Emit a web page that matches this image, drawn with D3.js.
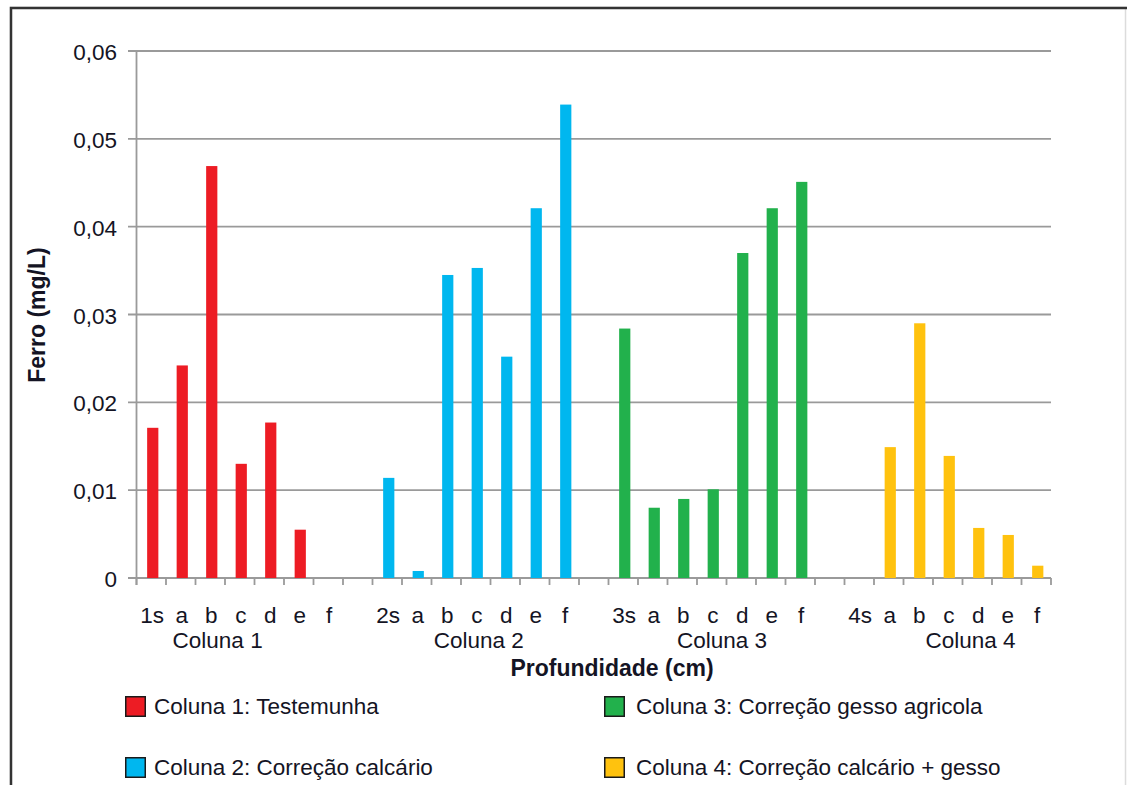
<!DOCTYPE html>
<html><head><meta charset="utf-8">
<script src="https://cdn.jsdelivr.net/npm/d3@7"></script>
<style>
html,body{margin:0;padding:0;background:#fff;}
text{font-family:"Liberation Sans",Arial,sans-serif;fill:#141424;}
</style></head>
<body><svg id="c" width="1127" height="785"></svg>
<script>
// ---- data ----
const groups = ["Coluna 1","Coluna 2","Coluna 3","Coluna 4"];
const depthLabels = ["s","a","b","c","d","e","f"];
const coluna1 = [0.0171,0.0242,0.0469,0.0130,0.0177,0.0055,null];
const coluna2 = [0.0114,0.0008,0.0345,0.0353,0.0252,0.0421,0.0539];
const coluna3 = [0.0284,0.0080,0.0090,0.0101,0.0370,0.0421,0.0451];
const coluna4 = [null,0.0149,0.0290,0.0139,0.0057,0.0049,0.0014];
const seriesNames = ["Coluna 1: Testemunha","Coluna 2: Correção calcário","Coluna 3: Correção gesso agricola","Coluna 4: Correção calcário + gesso"];
const colors = ["#ED1C24","#00B7EF","#22B14C","#FFC20E"];
const yTicks = [0,0.01,0.02,0.03,0.04,0.05,0.06];
const groupLabelSlot = [2.75,11.6,19.85,28.27];

const allSeries = [coluna1,coluna2,coluna3,coluna4];

// build category slots (7 per group, blank slot between groups)
const slots = [];
allSeries.forEach((vals,g)=>{
  depthLabels.forEach((d,i)=>{
    slots.push({key:`g${g}_${i}`, label: i===0 ? `${g+1}s` : d, value: vals[i], g});
  });
  if(g<allSeries.length-1) slots.push({key:`gap${g}`, label:"", value:null, g:-1});
});

const svg = d3.select("#c");
const L=136.5, R=1051, T=51, B=578;

const x = d3.scaleBand().domain(slots.map(s=>s.key)).range([L,R]).paddingInner(0.62).paddingOuter(0.31);
const xs = d3.scaleLinear().domain([0,slots.length]).range([L,R]);
const y = d3.scaleLinear().domain([0,0.06]).range([B,T]);

// frame
svg.append("rect").attr("x",10.5).attr("y",7.5).attr("width",1115).attr("height",800)
  .attr("fill","none").attr("stroke","#dcdcdc").attr("stroke-width",1.5);
svg.append("path").attr("d",`M11,800 L11,8 L1127,8`).attr("fill","none").attr("stroke","#333").attr("stroke-width",2.5);

// gridlines
svg.append("g").selectAll("line").data(yTicks).join("line")
  .attr("x1",128).attr("x2",R).attr("y1",d=>y(d)).attr("y2",d=>y(d))
  .attr("stroke","#9a9a9a").attr("stroke-width",1.8);

// y axis line
svg.append("line").attr("x1",L).attr("x2",L).attr("y1",T).attr("y2",B+7).attr("stroke","#9a9a9a").attr("stroke-width",1.8);

// y tick labels
svg.append("g").selectAll("text").data(yTicks).join("text")
  .attr("x",117).attr("y",d=>y(d)+9).attr("text-anchor","end")
  .style("font-size","22.5px")
  .text(d=> d===0 ? "0" : d3.format(".2f")(d).replace(".",","));

// x axis ticks
const tickPos = d3.range(slots.length+1).map(i=>xs(i));
svg.append("g").selectAll("line").data(tickPos).join("line")
  .attr("x1",d=>d).attr("x2",d=>d).attr("y1",B).attr("y2",B+7)
  .attr("stroke","#9a9a9a").attr("stroke-width",1.8);

// bars
svg.append("g").selectAll("rect").data(slots.filter(s=>s.value!=null)).join("rect")
  .attr("x",d=>x(d.key)+1.5).attr("width",x.bandwidth())
  .attr("y",d=>y(d.value)).attr("height",d=>B-y(d.value))
  .attr("fill",d=>colors[d.g]);

// category labels
svg.append("g").selectAll("text").data(slots).join("text")
  .attr("x",d=>x(d.key)+x.bandwidth()/2+1).attr("y",623).attr("text-anchor","middle")
  .style("font-size","22.5px").text(d=>d.label);

// group labels
svg.append("g").selectAll("text").data(groups).join("text")
  .attr("x",(d,i)=>xs(groupLabelSlot[i])).attr("y",648).attr("text-anchor","middle")
  .style("font-size","22.5px").text(d=>d);

// axis titles
svg.append("text").attr("x",612).attr("y",676).attr("text-anchor","middle")
  .style("font-size","23px").style("font-weight","bold").text("Profundidade (cm)");
svg.append("text").attr("transform","translate(45,315) rotate(-90)").attr("text-anchor","middle")
  .style("font-size","23px").style("font-weight","bold").text("Ferro (mg/L)");

// legend
const legPos = [[125,696],[125,757],[604,696],[604,757]];
const leg = svg.append("g").selectAll("g").data(seriesNames).join("g")
  .attr("transform",(d,i)=>`translate(${legPos[i][0]},${legPos[i][1]})`);
leg.append("rect").attr("x",0.75).attr("y",0.75).attr("width",19.5).attr("height",19.5)
  .attr("fill",(d,i)=>colors[i]).attr("stroke","#1a1a1a").attr("stroke-width",1.5);
leg.append("text").attr("x",(d,i)=> i<2 ? 29 : 32).attr("y",18)
  .style("font-size","22.5px").text(d=>d);
</script></body></html>
